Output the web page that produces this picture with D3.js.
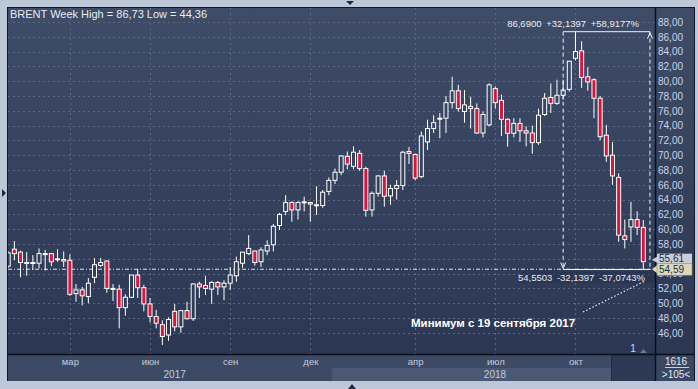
<!DOCTYPE html>
<html>
<head>
<meta charset="utf-8">
<script src="https://cdn.jsdelivr.net/npm/d3@7"></script>
<style>
  body { margin: 0; background: #bcc8d8; }
  svg { display: block; }
  text { font-family: "Liberation Sans", Arial, sans-serif; }
</style>
</head>
<body>
<svg id="chart" width="698" height="389"></svg>
<script>
// weekly BRENT candles, first week starts Monday 26.12.2016
const firstWeek = "2016-12-26";
const opens  = [55.0,57.3,56.9,55.4,55.4,55.4,56.6,56.7,55.9,55.9, 55.8,51.3,51.8,50.9,53.5,55.1,55.7,51.9,51.9,49.4,
                50.8,53.8,52.1,49.9,48.2,47.1,45.7,48.9,46.8,49.0, 47.9,52.6,52.4,51.9,52.8,52.2,52.7,53.7,55.4,56.7,
                57.05,55.6,57.05,57.9,60.5,62.4,63.6,62.6,63.6,63.6, 63.2,63.2,65.1,66.6,67.7,69.85,68.5,70.25,68.2,62.6,
                64.85,67.2,64.5,65.5,65.9,70.5,70.1,67.1,71.8,73.6, 74.9,75.0,77.1,78.7,75.9,76.6,76.3,73.0,74.1,79.0,
                77.4,74.85,72.96,74.3,73.3,73.0,71.7,75.5,77.8,77.0, 78.1,78.9,83.1,84.1,80.6,80.2,77.7,72.7,70.0,67.0,
                59.1,60.3,61.3,60.25];
const highs  = [57.0,58.4,57.1,56.9,56.5,57.4,57.2,56.8,57.3,57.0, 56.6,52.6,52.2,53.4,56.1,56.1,55.8,52.6,52.5,51.2,
                53.8,54.6,52.5,50.7,49.1,47.7,48.1,49.9,49.0,50.2, 52.7,52.9,53.7,53.0,53.0,53.1,54.9,56.3,56.9,59.2,
                57.1,57.55,58.5,60.7,62.2,64.6,63.8,63.8,64.4,63.7, 65.8,65.3,67.0,68.2,70.0,70.5,71.2,70.7,68.45,65.1,
                67.3,67.9,66.0,66.65,70.6,71.1,70.2,73.2,74.8,75.4, 75.7,78.0,80.6,79.5,78.8,77.9,77.0,75.9,79.7,79.3,
                78.2,75.0,75.0,75.0,73.9,74.0,76.3,78.4,79.7,80.2, 80.2,82.7,86.73,85.4,81.9,80.4,78.0,74.1,71.8,67.55,
                61.3,63.7,62.4,61.24];
const lows   = [54.8,55.8,53.5,53.7,54.5,54.7,54.4,55.0,55.6,54.9, 51.0,50.2,49.7,50.0,52.7,54.9,51.4,50.3,46.6,48.3,
                50.7,50.7,48.9,47.4,46.6,44.36,44.9,46.2,46.0,47.8, 47.6,50.7,51.1,49.9,51.1,50.4,51.8,52.9,54.8,56.5,
                55.07,54.9,56.5,57.0,59.9,61.9,61.0,61.3,62.4,61.0, 61.9,62.9,64.6,66.1,67.3,68.1,68.1,67.9,61.7,61.7,
                64.4,63.05,63.3,64.0,65.3,68.8,66.6,66.9,70.7,73.0, 72.3,73.0,76.3,75.9,74.4,73.6,72.9,72.4,73.9,76.3,
                72.6,71.15,72.4,71.8,71.2,70.2,71.4,75.3,75.7,76.8, 77.5,78.6,82.8,79.1,78.7,75.0,72.0,69.1,66.0,58.3,
                57.4,58.3,59.2,54.55];
const closes = [56.8,56.7,55.5,55.5,55.5,56.7,56.7,55.6,56.0,55.7, 51.2,51.8,51.0,52.7,55.2,55.5,52.0,52.0,49.4,50.8,
                53.8,52.1,49.9,48.2,47.3,45.5,47.8,46.8,49.0,47.9, 52.6,52.2,52.0,52.8,52.2,52.7,53.8,55.6,56.9,57.4,
                55.5,57.2,57.8,60.4,62.0,63.6,62.6,63.6,63.7,63.4, 63.3,65.0,66.6,67.7,69.9,68.8,70.4,68.2,62.55,64.85,
                67.2,64.45,65.5,65.9,70.4,70.25,66.9,72.6,73.6,74.4, 75.0,77.1,78.7,76.3,76.8,76.3,73.0,75.5,79.5,77.1,
                74.85,72.96,74.3,73.3,73.0,71.7,75.4,77.7,77.0,78.1, 78.8,82.7,84.0,80.5,79.9,77.7,72.5,69.9,67.2,59.2,
                58.6,61.3,60.25,55.61];

const priceTicks = [46,48,50,52,54,56,58,60,62,64,66,68,70,72,74,76,78,80,82,84,86,88];
const monthStarts = ["2017-03-01","2017-06-01","2017-09-01","2017-12-01","2018-04-01","2018-07-01","2018-10-01"];
const monthNames = ["мар","июн","сен","дек","апр","июл","окт"];
const years = [2017, 2018];

const lastPrice = 54.59, lastClose = 55.61;
const measHigh = 86.69, measLow = 54.5503;
const measPct = ["+58,9177%", "-37,0743%"];
const measStart = "2018-09-17";

const plot = { left: 8, top: 8, right: 655, bottom: 354 };
const parse = d3.timeParse("%Y-%m-%d");
const week0 = parse(firstWeek);
const weekIndex = date => Math.round((d3.timeMonday.ceil(date) - week0) / (7 * 864e5));
const fmt = v => v.toFixed(2).replace(".", ",");
const fmt4 = v => v.toFixed(4).replace(".", ",");

const svg = d3.select("#chart");
const defs = svg.append("defs");
const grad = defs.append("linearGradient").attr("id", "bg")
  .attr("gradientUnits", "userSpaceOnUse").attr("x1", 0).attr("y1", plot.top).attr("x2", 0).attr("y2", plot.bottom);
grad.append("stop").attr("offset", 0).attr("stop-color", "#3f4c68");
grad.append("stop").attr("offset", 1).attr("stop-color", "#2b3753");
defs.append("clipPath").attr("id", "clip").append("rect")
  .attr("x", plot.left).attr("y", plot.top).attr("width", plot.right - plot.left).attr("height", plot.bottom - plot.top);

const x = d3.scaleLinear().domain([0, opens.length - 1]).range([8.2, 643.3]);
const y = d3.scaleLinear().domain([46, 88]).range([332.8, 22]);

// frame
svg.append("rect").attr("x", 7).attr("y", 7).attr("width", 688).attr("height", 374).attr("fill", "#101827");
svg.append("rect").attr("x", plot.left).attr("y", plot.top).attr("width", plot.right - plot.left)
  .attr("height", plot.bottom - plot.top).attr("fill", "url(#bg)");
svg.append("rect").attr("x", 656).attr("y", 8).attr("width", 38).attr("height", 346).attr("fill", "url(#bg)");
svg.append("rect").attr("x", 8).attr("y", 355).attr("width", 647).attr("height", 26).attr("fill", "#3d4a65");
const x2018 = x(weekIndex(new Date(2018, 0, 1))) - 3;
svg.append("rect").attr("x", x2018).attr("y", 368).attr("width", 612 - x2018)
  .attr("height", 13).attr("fill", "#4a5873");
svg.append("rect").attr("x", 612).attr("y", 355).attr("width", 43).attr("height", 26).attr("fill", "#2d3953");
svg.append("line").attr("x1", 611.5).attr("x2", 611.5).attr("y1", 355).attr("y2", 381).attr("stroke", "#222c40");
svg.append("rect").attr("x", 656).attr("y", 355).attr("width", 38).attr("height", 26).attr("fill", "#3a4762");

// small navigation arrows outside the frame
svg.append("path").attr("d", "M346,1 L354,1 L350,5 Z").attr("fill", "#1d2a42");
svg.append("path").attr("d", "M348,389 L356,389 L352,384 Z").attr("fill", "#1d2a42");
svg.append("path").attr("d", "M2,189 L6,193 L2,197 Z").attr("fill", "#1d2a42");

const body = svg.append("g").attr("clip-path", "url(#clip)");

// grid
body.append("g").selectAll("line").data(priceTicks).join("line")
  .attr("x1", plot.left).attr("x2", plot.right)
  .attr("y1", d => Math.round(y(d)) + 0.5).attr("y2", d => Math.round(y(d)) + 0.5)
  .attr("stroke", "#5a6782").attr("stroke-dasharray", "2,3");
const monthIdx = monthStarts.map(s => weekIndex(parse(s)));
body.append("g").selectAll("line").data(monthIdx).join("line")
  .attr("x1", d => Math.round(x(d)) + 0.5).attr("x2", d => Math.round(x(d)) + 0.5)
  .attr("y1", plot.top).attr("y2", plot.bottom)
  .attr("stroke", "#5a6782").attr("stroke-dasharray", "2,3");

// last price line
body.append("line").attr("x1", plot.left).attr("x2", plot.right)
  .attr("y1", y(lastPrice)).attr("y2", y(lastPrice))
  .attr("stroke", "#dfe5ee").attr("stroke-dasharray", "4,2,1,2");

// candles
const candles = opens.map((o, i) => ({ i, o, h: highs[i], l: lows[i], c: closes[i] }));
const cg = body.append("g").selectAll("g").data(candles).join("g");
cg.append("line")
  .attr("x1", d => x(d.i)).attr("x2", d => x(d.i))
  .attr("y1", d => y(d.h)).attr("y2", d => y(Math.max(d.o, d.c)))
  .attr("stroke", "#fff");
cg.append("line")
  .attr("x1", d => x(d.i)).attr("x2", d => x(d.i))
  .attr("y1", d => y(Math.min(d.o, d.c))).attr("y2", d => y(d.l))
  .attr("stroke", "#fff");
cg.append("rect")
  .attr("x", d => x(d.i) - 2).attr("width", 4)
  .attr("y", d => y(Math.max(d.o, d.c)))
  .attr("height", d => Math.max(1, y(Math.min(d.o, d.c)) - y(Math.max(d.o, d.c))))
  .attr("fill", d => d.c >= d.o ? "url(#bg)" : "#dc143c")
  .attr("stroke", "#fff").attr("stroke-width", 1);

// measurement overlay
const mx0 = x(weekIndex(parse(measStart))), mx1 = x(opens.length) + 0.5;
const my0 = y(measHigh), my1 = y(measLow);
const meas = body.append("g").attr("stroke", "#eef2f7").attr("fill", "none");
meas.append("line").attr("x1", mx0).attr("x2", mx0).attr("y1", my0).attr("y2", my1).attr("stroke-dasharray", "4,3");
meas.append("line").attr("x1", mx1).attr("x2", mx1).attr("y1", my0).attr("y2", my1).attr("stroke-dasharray", "4,3");
meas.append("line").attr("x1", mx0).attr("x2", mx1).attr("y1", my0).attr("y2", my0);
meas.append("line").attr("x1", mx0).attr("x2", mx1).attr("y1", my1).attr("y2", my1);
meas.append("path").attr("d", `M${mx1 - 2.5},${my0 + 7} L${mx1},${my0 + 1} L${mx1 + 2.5},${my0 + 7}`);
meas.append("path").attr("d", `M${mx0 - 2.5},${my1 - 7} L${mx0},${my1 - 1} L${mx0 + 2.5},${my1 - 7}`);

svg.append("rect").attr("x", 522).attr("y", my1 + 1.5).attr("width", 133).attr("height", 12)
  .attr("fill", "#26324c").attr("opacity", 0.55);
svg.append("text").attr("x", 639).attr("y", my0 - 5).attr("text-anchor", "end")
  .attr("font-size", 9.5).attr("fill", "#e6ebf2")
  .text(`${fmt4(measHigh)} +${fmt4(measHigh - measLow)} ${measPct[0]}`)
  .attr("word-spacing", 2);
svg.append("text").attr("x", 645).attr("y", my1 + 11.5).attr("text-anchor", "end")
  .attr("font-size", 9.5).attr("fill", "#e6ebf2")
  .text(`${fmt4(measLow)} -${fmt4(measHigh - measLow)} ${measPct[1]}`)
  .attr("word-spacing", 2);

// annotation
svg.append("line").attr("x1", 583).attr("y1", 312).attr("x2", 645).attr("y2", 281)
  .attr("stroke", "#e6ebf2").attr("stroke-width", 1.2).attr("stroke-dasharray", "1.5,2");
svg.append("text").attr("x", 411).attr("y", 327).attr("font-size", 11.5).attr("font-weight", "bold")
  .attr("fill", "#ffffff").text("Минимум с 19 сентября 2017");

// title
svg.append("text").attr("x", 10).attr("y", 18).attr("font-size", 11).attr("fill", "#e6ebf2")
  .text(`BRENT Week High = ${fmt(d3.max(highs))} Low = ${fmt(d3.min(lows))}`);

// separators
svg.append("line").attr("x1", 655.5).attr("x2", 655.5).attr("y1", 8).attr("y2", 381).attr("stroke", "#0b111c").attr("stroke-width", 1.5);
svg.append("line").attr("x1", 8).attr("x2", 694).attr("y1", 354.5).attr("y2", 354.5).attr("stroke", "#0b111c").attr("stroke-width", 1.5);

// price axis
const yAxis = svg.append("g").attr("transform", "translate(656,0)")
  .call(d3.axisRight(y).tickValues(priceTicks).tickFormat(fmt).tickSize(0).tickPadding(2));
yAxis.select(".domain").remove();
yAxis.selectAll("text").attr("font-size", 10).attr("fill", "#c9d5e8").attr("font-family", "Liberation Sans, Arial, sans-serif");

// time axis
const xAxis = svg.append("g").attr("transform", "translate(0,355)")
  .call(d3.axisBottom(x).tickValues(monthIdx).tickFormat((d, i) => monthNames[i]).tickSize(0).tickPadding(3));
xAxis.select(".domain").remove();
xAxis.selectAll("text").attr("font-size", 9.5).attr("fill", "#c3cbda").attr("font-family", "Liberation Sans, Arial, sans-serif");

const yearSpan = yr => {
  const a = Math.max(x(weekIndex(new Date(yr, 0, 1))), plot.left);
  const b = Math.min(x(weekIndex(new Date(yr + 1, 0, 1))), plot.right);
  return (a + b) / 2;
};
svg.append("g").selectAll("text").data(years).join("text")
  .attr("x", yearSpan).attr("y", 378).attr("text-anchor", "middle")
  .attr("font-size", 10).attr("fill", "#c3cbda").text(d => d);

// current price labels (55,61 partly covered by 54,59)
const yc = y(lastClose), yp = y(lastPrice);
svg.append("path").attr("d", `M652,${yc - 2} L657,${yc - 5} L657,${yc + 1} Z`).attr("fill", "#c9ced8");
svg.append("rect").attr("x", 657).attr("y", yc - 8).attr("width", 35).attr("height", 12).attr("fill", "#c9ced8");
svg.append("text").attr("x", 659).attr("y", yc + 0.5).attr("font-size", 10).attr("fill", "#1d2c4a").text(fmt(lastClose));
svg.append("path").attr("d", `M652,${yp} L657,${yp - 4} L657,${yp + 4} Z`).attr("fill", "#dcd8b8");
svg.append("rect").attr("x", 657).attr("y", yp - 5.5).attr("width", 35).attr("height", 11.5)
  .attr("fill", "#dcd8b8").attr("stroke", "#8c8a72").attr("stroke-width", 0.6);
svg.append("text").attr("x", 659).attr("y", yp + 4).attr("font-size", 10).attr("fill", "#1d2c4a").text(fmt(lastPrice));

// bottom right counters
svg.append("text").attr("x", 676).attr("y", 365).attr("text-anchor", "middle").attr("font-size", 10).attr("fill", "#e2e7ef").text("1616");
svg.append("line").attr("x1", 665).attr("x2", 689).attr("y1", 367.5).attr("y2", 367.5).attr("stroke", "#c9d0dc");
svg.append("text").attr("x", 676).attr("y", 378).attr("text-anchor", "middle").attr("font-size", 10).attr("fill", "#e2e7ef").text(">105<");

svg.append("text").attr("x", 633).attr("y", 352).attr("text-anchor", "middle").attr("font-size", 10).attr("fill", "#d5dbe5").text("1");
svg.append("path").attr("d", "M640,353 L643.5,349 L647,353 Z").attr("fill", "#6a7590");
</script>
</body>
</html>
